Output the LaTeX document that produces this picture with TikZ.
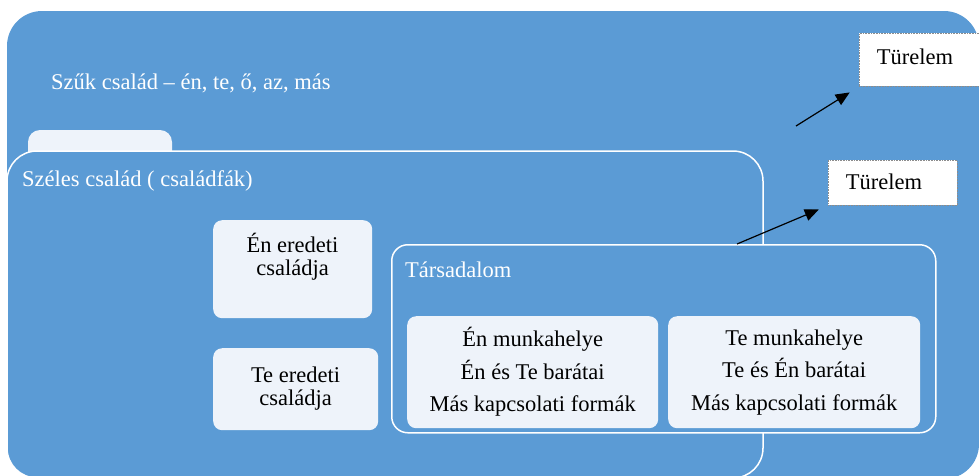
\documentclass[tikz,border=0pt]{standalone}
\usepackage{fontspec}
\setmainfont{Liberation Serif}
\newfontfamily\serf{Liberation Serif}
\usetikzlibrary{arrows.meta,calc}
\definecolor{oblue}{HTML}{5B9BD5}
\definecolor{olight}{HTML}{EEF3FA}
\definecolor{dotgray}{HTML}{8C8C8C}
\begin{document}
\begin{tikzpicture}[x=1pt,y=-1pt,
  txt/.style={inner sep=0pt,font=\serf\fontsize{22.5}{23}\selectfont,align=center},
  wtxt/.style={txt,text=white,anchor=west},
  lbox/.style={fill=olight,draw=none,rounded corners=9pt,inner sep=0pt,anchor=north west},
  sbox/.style={fill=oblue,draw=white,line width=1.5pt,rounded corners=16pt,inner sep=0pt,anchor=north west},
  tbox/.style={fill=white,draw=dotgray,densely dotted,line width=0.6pt,inner sep=0pt,anchor=north west},
  arr/.style={-{Triangle[length=14pt,width=12pt]},line width=1.2pt,black}]
\useasboundingbox (0,0) rectangle (979,475);
% outer box (Szuk csalad)
\fill[oblue,rounded corners=35pt] (7,11) rectangle (979,479);
\node[wtxt] (szuk) at (51,83) {Szűk család – én, te, ő, az, más};
% tab
\fill[olight,rounded corners=12pt] (28,130) rectangle (172,175);
% Szeles csalad
\draw[fill=oblue,draw=white,line width=1.5pt,rounded corners=30pt] (7,151) rectangle (763,478);
\node[wtxt] (szeles) at (22,181) {Széles család ( családfák)};
% small boxes
\node[lbox,minimum width=159pt,minimum height=98pt] (enbox) at (213,220) {};
\node[txt] (entxt) at (292.5,256.5) {Én eredeti\\családja};
\node[lbox,minimum width=165pt,minimum height=82pt] (tebox) at (213,348) {};
\node[txt] (tetxt) at (295.5,388.5) {Te eredeti\\családja};
% Tarsadalom
\node[sbox,minimum width=544pt,minimum height=188pt] (tars) at (391,244) {};
\node[wtxt] (tarstxt) at (405,270) {Társadalom};
\node[lbox,minimum width=251pt,minimum height=112pt] (w1) at (407,316) {};
\node[txt,font=\serf\fontsize{22.5}{32.5}\selectfont] (w1txt) at (w1.center) {Én munkahelye\\Én és Te barátai\\Más kapcsolati formák};
\node[lbox,minimum width=252pt,minimum height=112pt] (w2) at (668,316) {};
\node[txt,font=\serf\fontsize{22.5}{32.5}\selectfont] (w2txt) at (w2.center) {Te munkahelye\\Te és Én barátai\\Más kapcsolati formák};
% Turelem boxes
\node[tbox,minimum width=130pt,minimum height=53pt] (t1) at (859,33) {};
\node[txt] (t1txt) at (915,57) {Türelem};
\node[tbox,minimum width=129pt,minimum height=45pt] (t2) at (828,160) {};
\node[txt] (t2txt) at (884,182) {Türelem};
% arrows
\coordinate (a1) at (796,126);
\coordinate (a2) at ($(tars.north west)+(346,0)$);
\draw[arr,shorten >=11pt] (a1) -- (t1.south west);
\draw[arr,shorten >=10pt] (a2) -- (t2.south west);
\end{tikzpicture}
\end{document}
